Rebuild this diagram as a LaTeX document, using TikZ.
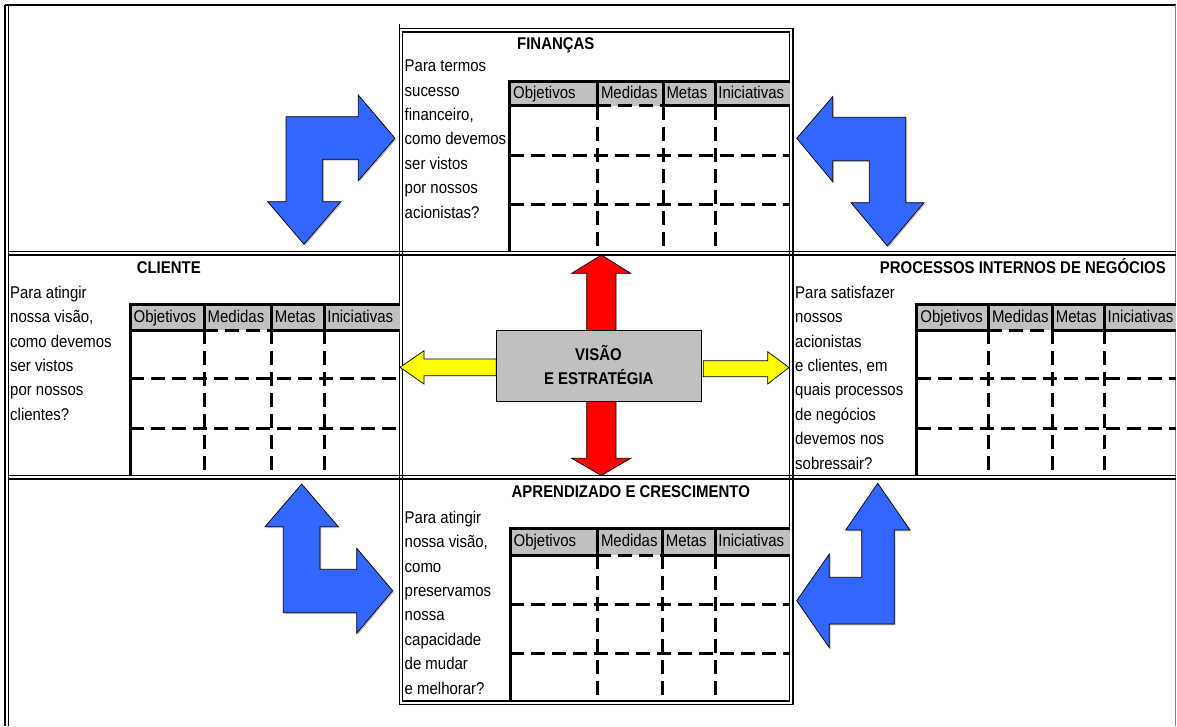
\documentclass[tikz,border=0pt]{standalone}
\usepackage{fontspec}
\setmainfont{Liberation Sans}[FakeStretch=0.88]
\definecolor{hdrgray}{RGB}{192,192,192}
\definecolor{arrowblue}{RGB}{51,102,255}
\definecolor{arrowred}{RGB}{255,0,0}
\definecolor{arrowyellow}{RGB}{255,255,0}

% One perspective table: #1 name, #2 x positions left/c1/c2/c3/right,
% #3 y positions top/header-bottom/row1/row2/bottom
\newcommand{\bsctable}[3]{%
  \foreach \xl/\xa/\xb/\xc/\xr in {#2}{%
    \foreach \yt/\yh/\ya/\yb/\ye in {#3}{%
      \fill[hdrgray] (\xl,\yt) rectangle (\xr,\yh);
      \draw[tabdash] (\xa,\yh) -- (\xa,\ye);
      \draw[tabdash] (\xb,\yh) -- (\xb,\ye);
      \draw[tabdash] (\xc,\yh) -- (\xc,\ye);
      \draw[tabdash] (\xl,\ya) -- (\xr,\ya);
      \draw[tabdash] (\xl,\yb) -- (\xr,\yb);
      \draw[tabdash] (\xa,\yh) -- (\xb,\yh);
      \draw[tabline] (\xl,\ye) -- (\xl,\yt) -- (\xr,\yt);
      \draw[tabline] (\xl,\yh) -- (\xa,\yh);
      \draw[tabline] (\xb,\yh) -- (\xr,\yh);
      \draw[tabline] (\xa,\yt) -- (\xa,\yh) (\xb,\yt) -- (\xb,\yh) (\xc,\yt) -- (\xc,\yh);
      \node[hdrtxt] (#1-obj) at ({\xl+3.5},{(\yt+\yh)/2+5}) {Objetivos};
      \node[hdrtxt] (#1-med) at ({\xa+3.5},{(\yt+\yh)/2+5}) {Medidas};
      \node[hdrtxt] (#1-met) at ({\xb+3},{(\yt+\yh)/2+5}) {Metas};
      \node[hdrtxt] (#1-ini) at ({\xc+3.2},{(\yt+\yh)/2+5}) {Iniciativas};
    }}}

% Question text, one node per line: #1 name, #2 x, #3 first baseline, #4 lines
\newcommand{\bsclines}[4]{%
  \foreach \txtline [count=\i] in {#4}
    \node[bodytxt] (#1-l\i) at (#2,{#3+24.4*(\i-1)}) {\txtline};}

\begin{document}
\begin{tikzpicture}[x=1pt,y=-1pt,
  frameline/.style={line width=1.5pt,black},
  tabline/.style={line width=3pt,black,line join=miter},
  tabdash/.style={line width=3pt,black,dash pattern=on 14pt off 7pt},
  bodytxt/.style={inner sep=0pt,anchor=base west,font=\fontsize{17}{20}\selectfont},
  hdrtxt/.style={inner sep=0pt,anchor=base west,font=\fontsize{17}{20}\selectfont},
  titletxt/.style={inner sep=0pt,font=\fontsize{17}{20}\selectfont\bfseries},
  bluearrow/.style={fill=arrowblue,draw=black,line width=0.7pt,line join=miter,
    preaction={fill=gray!45,transform canvas={shift={(1.3,1.3)}}}},
  flatarrow/.style={draw=black,line width=0.7pt,line join=miter}]
\useasboundingbox (0,0) rectangle (1177,726);
\fill[white] (0,0) rectangle (1177,726);

% outer frame
\draw[frameline] (5,5) -- (1175.5,5);
\draw[frameline] (5,5) -- (5,726);
\draw[frameline] (8.3,5) -- (8.3,726);
\draw[gray,line width=0.8pt] (1175.5,5) -- (1175.5,726);

% row separators and the double-ruled centre column
\foreach \y in {251.7,255,475.5,478.8}
  \draw[frameline] (8.3,\y) -- (1175.5,\y);
\draw[frameline] (399.5,28.3) rectangle (793,704.5);
\draw[frameline] (402.7,32) rectangle (789.7,700.8);
\draw[line width=0.8pt] (399.5,24) -- (399.5,28.3);

% perspective tables
\bsctable{fin}{509.5/597.3/663.3/715/789.7}{81.3/105.5/155.3/204/251.7}
\bsctable{cli}{130/204/271.7/324/399.5}{304.7/330/378.3/428.3/475.5}
\bsctable{pro}{916.7/988.3/1052.7/1104.3/1175.5}{304.7/330/378.7/428.7/475.5}
\bsctable{apr}{510/597.3/662.7/715/789.7}{528.3/555/604/653/700.8}

% titles
\node[titletxt,anchor=base] (fin-title) at (555.8,49.3) {FINANÇAS};
\node[titletxt,anchor=base] (cli-title) at (168.8,273.3) {CLIENTE};
\node[titletxt,anchor=base east] (pro-title) at (1166,273.3) {PROCESSOS INTERNOS DE NEGÓCIOS};
\node[titletxt,anchor=base] (apr-title) at (630.8,497.3) {APRENDIZADO E CRESCIMENTO};

% questions
\bsclines{fin}{404.5}{71.7}{Para termos,sucesso,{financeiro,},como devemos,ser vistos,por nossos,acionistas?}
\bsclines{cli}{10}{298.3}{Para atingir,{nossa visão,},como devemos,ser vistos,por nossos,clientes?}
\bsclines{pro}{795}{298.3}{Para satisfazer,nossos,acionistas,{e clientes, em},quais processos,de negócios,devemos nos,sobressair?}
\bsclines{apr}{404.5}{523.3}{Para atingir,{nossa visão,},como,preservamos,nossa,capacidade,de mudar,e melhorar?}

% centre: vision and strategy with its arrows
\draw[flatarrow,fill=arrowred] (586.7,273.3) -- (571.7,273.3) -- (601.3,255) -- (630.7,273.3)
  -- (616,273.3) -- (616,458.3) -- (630.7,458.3) -- (601.3,475.5) -- (571.7,458.3)
  -- (586.7,458.3) -- cycle;
\node[draw=black,line width=1pt,fill=hdrgray,minimum width=204.3pt,minimum height=70.6pt,
  inner sep=0pt] (vision) at (598.85,366) {};
\draw[flatarrow,fill=arrowyellow] (400,367.3) -- (424,350.7) -- (424,359) -- (vision.west |- 0,359)
  -- (vision.west |- 0,375.7) -- (424,375.7) -- (424,384) -- cycle;
\draw[flatarrow,fill=arrowyellow] (703.3,360.7) -- (767.7,360.7) -- (767.7,351.7) -- (789,367.5)
  -- (767.7,384) -- (767.7,376.7) -- (703.3,376.7) -- cycle;
\node[titletxt,anchor=base] (vision-l1) at (598.5,360) {VISÃO};
\node[titletxt,anchor=base] (vision-l2) at (598.8,384) {E ESTRATÉGIA};

% bent blue arrows in the corners
\draw[bluearrow] (286,116.7) -- (358.3,116.7) -- (358.3,95) -- (395,138.3) -- (358.3,180.7)
  -- (358.3,159.3) -- (322.7,159.3) -- (322.7,201.7) -- (340.7,201.7) -- (304,244.3)
  -- (267.7,201.7) -- (286,201.7) -- cycle;
\draw[bluearrow] (905.7,117.3) -- (832.7,117.3) -- (832.7,96.7) -- (796.7,138.3) -- (832.7,181.7)
  -- (832.7,160.7) -- (869.3,160.7) -- (869.3,202.7) -- (851,202.7) -- (887.3,246)
  -- (924,202.7) -- (905.7,202.7) -- cycle;
\draw[bluearrow] (283.3,612.7) -- (356.7,612.7) -- (356.7,633.3) -- (392.7,590.7) -- (356.7,548.3)
  -- (356.7,569.3) -- (320,569.3) -- (320,526.7) -- (338.3,526.7) -- (301.7,484)
  -- (265,526.7) -- (283.3,526.7) -- cycle;
\draw[bluearrow] (894.3,624) -- (829.3,624) -- (829.3,647.7) -- (796.7,600.7) -- (829.3,554)
  -- (829.3,577.3) -- (861.7,577.3) -- (861.7,530) -- (845.7,530) -- (877.7,483.3)
  -- (910,530) -- (894.3,530) -- cycle;
\end{tikzpicture}
\end{document}
